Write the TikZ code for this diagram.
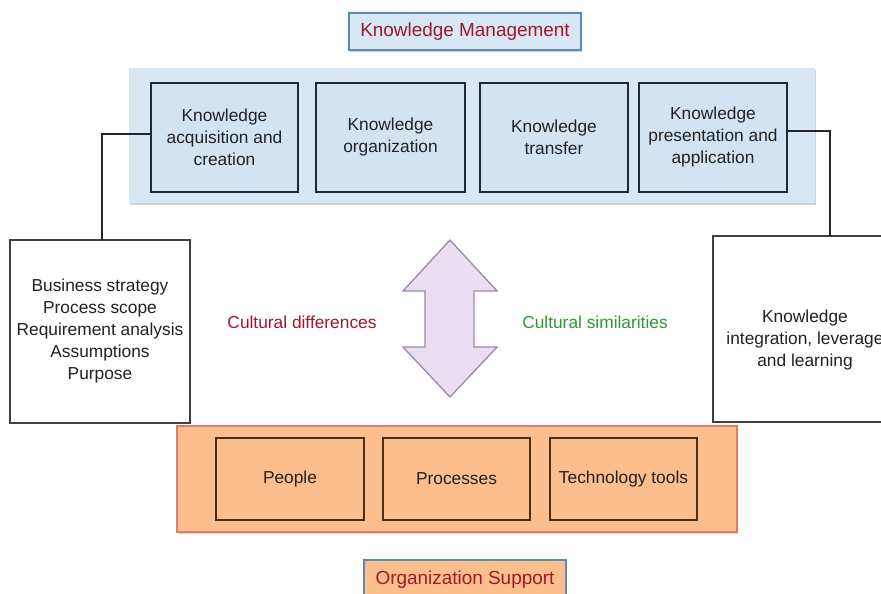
\documentclass[tikz,border=0pt]{standalone}
\usepackage{fontspec}
\setmainfont{Liberation Sans}
\usetikzlibrary{shadows}
\definecolor{kmfill}{HTML}{D7E7F4}
\definecolor{kmbox}{HTML}{D2E4F2}
\definecolor{navy}{HTML}{1E2A38}
\definecolor{osfill}{HTML}{FBBE8C}
\definecolor{osedge}{HTML}{E27A6E}
\definecolor{brownedge}{HTML}{4A2C14}
\definecolor{titlered}{HTML}{A0182C}
\definecolor{titleedge}{HTML}{5A8CB0}
\definecolor{simgreen}{HTML}{2E9A36}
\definecolor{arrowfill}{HTML}{EADFF0}
\definecolor{arrowedge}{HTML}{9C8AAA}
\definecolor{txt}{HTML}{222222}
\tikzset{
  pxsize/.style 2 args={minimum width={#1*0.75pt}, minimum height={#2*0.75pt}, inner sep=0pt},
  band/.style={draw=none, drop shadow={shadow xshift=1pt, shadow yshift=-1.5pt, opacity=0.35}},
  kmitem/.style={draw=navy, line width=1pt, fill=kmbox, align=center, text=txt, font=\fontsize{13}{16.5}\selectfont},
  ositem/.style={draw=brownedge, line width=1pt, fill=osfill, align=center, text=txt, font=\fontsize{13}{16.5}\selectfont},
  sidebox/.style={draw=black!75, line width=1pt, fill=white},
  sidetext/.style={align=center, text=txt, font=\fontsize{13}{16.5}\selectfont},
  titlebox/.style={draw=titleedge, line width=1pt, text=titlered, font=\fontsize{14.2}{17}\selectfont,
    drop shadow={shadow xshift=1pt, shadow yshift=-1.5pt, opacity=0.4}},
  conn/.style={draw=black!85, line width=0.9pt},
  cultural/.style={font=\fontsize{13}{16}\selectfont}
}
\begin{document}
\begin{tikzpicture}[x=0.75pt,y=-0.75pt]
\clip (0,0) rectangle (881,593);
\fill[white] (0,0) rectangle (881,593);
% Knowledge management band
\node[band, fill=kmfill, pxsize={686}{135}] (kmband) at (472,135.5) {};
\node[titlebox, fill=kmfill, pxsize={232}{37}] (kmtitle) at (465,31.5) {Knowledge Management};
\node[kmitem, pxsize={147}{109}] (box1) at (224.5,137.5) {Knowledge\\acquisition and\\creation};
\node[kmitem, pxsize={149}{109}] (box2) at (390.5,137.5) {Knowledge\\organization};
\node[kmitem, pxsize={148}{109}] (box3) at (554,137.5) {Knowledge\\transfer};
\node[kmitem, pxsize={148}{109}] (box4) at (713,137.5) {Knowledge\\presentation and\\application};
% side boxes
\node[sidebox, pxsize={180}{183}] (lbox) at (100,331.5) {};
\node[sidetext] (ltext) at (100,331.5) {Business strategy\\Process scope\\Requirement analysis\\Assumptions\\Purpose};
\node[sidebox, pxsize={190}{186}] (rbox) at (808,329) {};
\node[sidetext] (rtext) at (805,340) {Knowledge\\integration, leverage\\and learning};
\coordinate (lj) at (102,240);
\coordinate (rj) at (830,236);
\draw[conn] ([yshift=2.6pt]box1.west) -| (lj);
\draw[conn] ([yshift=4.9pt]box4.east) -| (rj);
% double arrow
\draw[fill=arrowfill, draw=arrowedge, line width=1pt, line join=miter]
  (450,240) coordinate (atop) -- (497,291) -- (474,291) -- (474,347) -- (497,347) -- (450,397) coordinate (abot)
  -- (403,347) -- (425,347) -- (425,291) -- (403,291) -- cycle;
\node[cultural, text=titlered] (cdiff) at (302,322) {Cultural differences};
\node[cultural, text=simgreen] (csim) at (595,322) {Cultural similarities};
% organisation support band
\node[band, fill=osfill, draw=osedge, line width=1pt, pxsize={560}{106}] (osband) at (457,479) {};
\node[ositem, pxsize={148}{82}] (people) at (290,479) {People};
\node[ositem, pxsize={147}{82}] (proc) at (456.5,479) {Processes};
\node[ositem, pxsize={147}{82}] (tech) at (623.5,479) {Technology tools};
\node[titlebox, fill=osfill, pxsize={202}{40}] (ostitle) at (465,580) {Organization Support};
\end{tikzpicture}
\end{document}
